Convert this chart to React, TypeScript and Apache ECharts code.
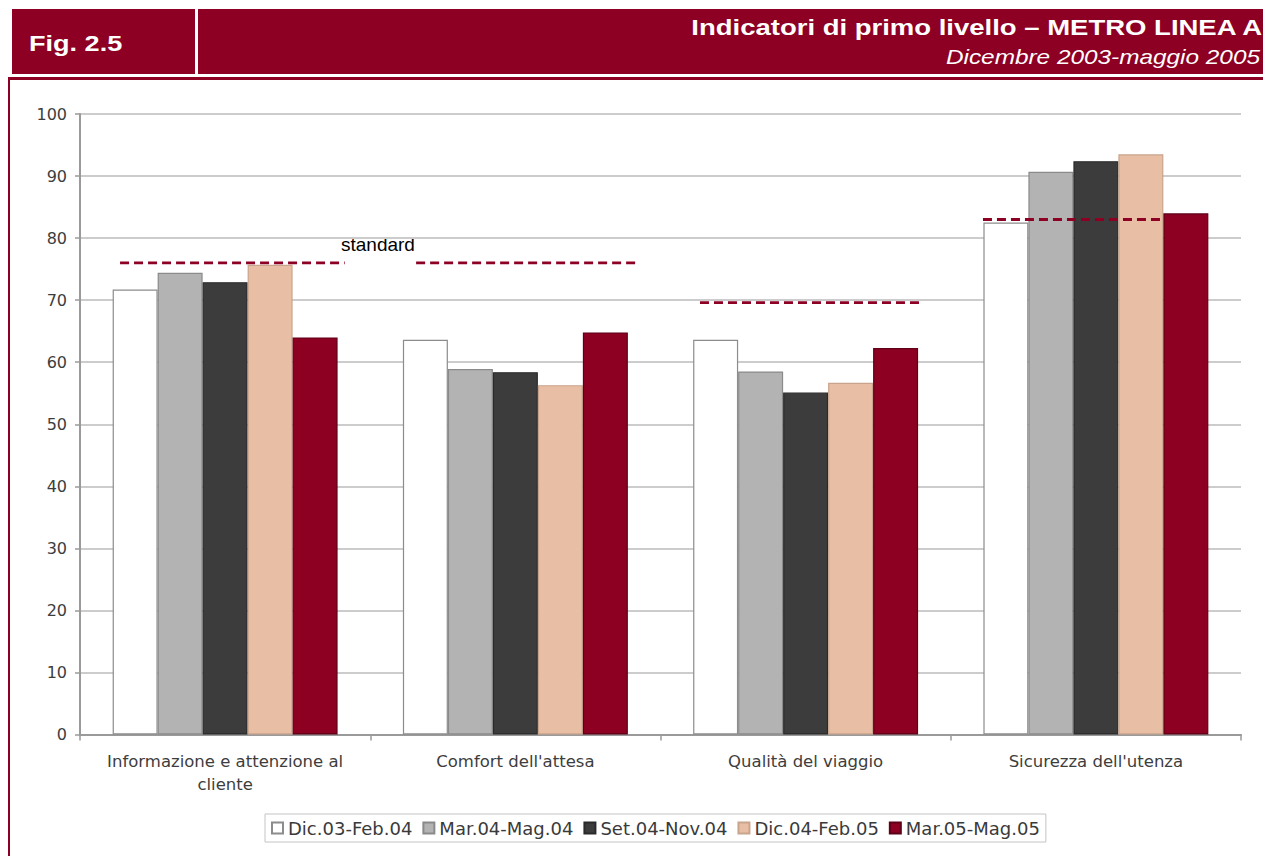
import React, { useEffect, useRef } from "react";
import * as echarts from "echarts";

const categories = [
  "Informazione e attenzione al\ncliente",
  "Comfort dell'attesa",
  "Qualità del viaggio",
  "Sicurezza dell'utenza",
];
const seriesNames = ["Dic.03-Feb.04", "Mar.04-Mag.04", "Set.04-Nov.04", "Dic.04-Feb.05", "Mar.05-Mag.05"];
const dic03feb04 = [71.7, 63.6, 63.6, 82.5];
const mar04mag04 = [74.4, 58.9, 58.5, 90.7];
const set04nov04 = [72.9, 58.4, 55.1, 92.4];
const dic04feb05 = [75.7, 56.3, 56.7, 93.5];
const mar05mag05 = [64.0, 64.8, 62.3, 84.0];
const seriesValues = [dic03feb04, mar04mag04, set04nov04, dic04feb05, mar05mag05];

// standard reference segments (value, start/end in category units)
const standardValues = [76, 76, 69.6, 83];
const standardStart = [0.138, 1.158, 2.136, 3.111];
const standardEnd = [0.912, 1.926, 2.904, 3.738];

const yTicks = [0, 10, 20, 30, 40, 50, 60, 70, 80, 90, 100];

const RED = "#8d0024";
const fills = ["#ffffff", "#b3b3b3", "#3c3c3c", "#e8bfa5", "#8d0022"];
const borders = ["#8c8c8c", "#8a8a8a", "#2a2a2a", "#c9a48c", "#5e0017"];

export default function App() {
  const ref = useRef<HTMLDivElement>(null);
  useEffect(() => {
    if (!ref.current) return;
    const chart = echarts.init(ref.current, null, { renderer: "svg" });
    const barSeries = seriesNames.map((name, i) => ({
      name,
      type: "bar",
      xAxisIndex: 0,
      yAxisIndex: 0,
      data: seriesValues[i],
      barGap: "0%",
      barCategoryGap: "22.5%",
      itemStyle: { color: fills[i], borderColor: borders[i], borderWidth: 1.2 },
      silent: true,
    }));
    const stdSeries = standardValues.map((v, i) => ({
      name: "standard" + i,
      type: "line",
      xAxisIndex: 1,
      yAxisIndex: 0,
      data: [
        [standardStart[i], v],
        [standardEnd[i], v],
      ],
      symbol: "none",
      lineStyle: { color: RED, width: 2.8, type: [9, 5] },
      silent: true,
      z: 5,
    }));
    chart.setOption({
      animation: false,
      backgroundColor: "#ffffff",
      grid: { left: 80, right: 22, top: 114, bottom: 121.5, containLabel: false },
      legend: {
        data: seriesNames,
        left: 265,
        top: 814,
        itemWidth: 11,
        itemHeight: 11,
        itemGap: 10,
        icon: "rect",
        padding: [5, 6],
        borderColor: "#c4c4c4",
        borderWidth: 1,
        textStyle: { fontFamily: "DejaVu Sans", fontSize: 18, color: "#3a3a3a" },
      },
      xAxis: [
        {
          type: "category",
          data: categories,
          axisLine: { lineStyle: { color: "#9a9a9a", width: 2 } },
          axisTick: { show: true, length: 6, lineStyle: { color: "#9a9a9a", width: 1.5 } },
          axisLabel: {
            fontFamily: "DejaVu Sans",
            fontSize: 16.5,
            color: "#3d3d3d",
            margin: 15,
            lineHeight: 23,
            interval: 0,
          },
          splitLine: { show: false },
        },
        {
          type: "value",
          min: 0,
          max: 4,
          show: false,
        },
      ],
      yAxis: {
        type: "value",
        min: yTicks[0],
        max: yTicks[yTicks.length - 1],
        interval: 10,
        axisLine: { show: true, lineStyle: { color: "#9a9a9a", width: 2 } },
        axisTick: { show: true, length: 5, lineStyle: { color: "#9a9a9a", width: 1.5 } },
        axisLabel: { fontFamily: "DejaVu Sans", fontSize: 16, color: "#3d3d3d", margin: 13 },
        splitLine: { lineStyle: { color: "#cccccc", width: 2 } },
      },
      series: [...barSeries, ...stdSeries],
      graphic: [
        { type: "rect", shape: { x: 12, y: 9, width: 183, height: 65 }, style: { fill: RED }, silent: true },
        { type: "rect", shape: { x: 198, y: 9, width: 1065, height: 65 }, style: { fill: RED }, silent: true },
        { type: "rect", shape: { x: 8, y: 77, width: 1255, height: 3 }, style: { fill: RED }, silent: true },
        { type: "rect", shape: { x: 8, y: 77, width: 2, height: 779 }, style: { fill: RED }, silent: true },
        {
          type: "text",
          x: 29,
          y: 43.5,
          scaleX: 1.23,
          style: {
            text: "Fig. 2.5",
            fill: "#ffffff",
            font: "bold 22px 'Liberation Sans', Arial, sans-serif",
            align: "left",
            verticalAlign: "middle",
          },
        },
        {
          type: "text",
          x: 1262,
          y: 27.3,
          scaleX: 1.25,
          style: {
            text: "Indicatori di primo livello – METRO LINEA A",
            fill: "#ffffff",
            font: "bold 22px 'Liberation Sans', Arial, sans-serif",
            align: "right",
            verticalAlign: "middle",
          },
        },
        {
          type: "text",
          x: 1260,
          y: 56.6,
          scaleX: 1.16,
          style: {
            text: "Dicembre 2003-maggio 2005",
            fill: "#ffffff",
            font: "italic 21px 'Liberation Sans', Arial, sans-serif",
            align: "right",
            verticalAlign: "middle",
          },
        },
        {
          type: "text",
          x: 341,
          y: 244,
          style: {
            text: "standard",
            fill: "#000000",
            font: "19px 'Liberation Sans', Arial, sans-serif",
            align: "left",
            verticalAlign: "middle",
          },
        },
      ],
    });
    return () => chart.dispose();
  }, []);
  return (
    <div
      ref={ref}
      style={{ position: "absolute", left: 0, top: 0, width: 1263, height: 856, background: "#fff" }}
    />
  );
}
